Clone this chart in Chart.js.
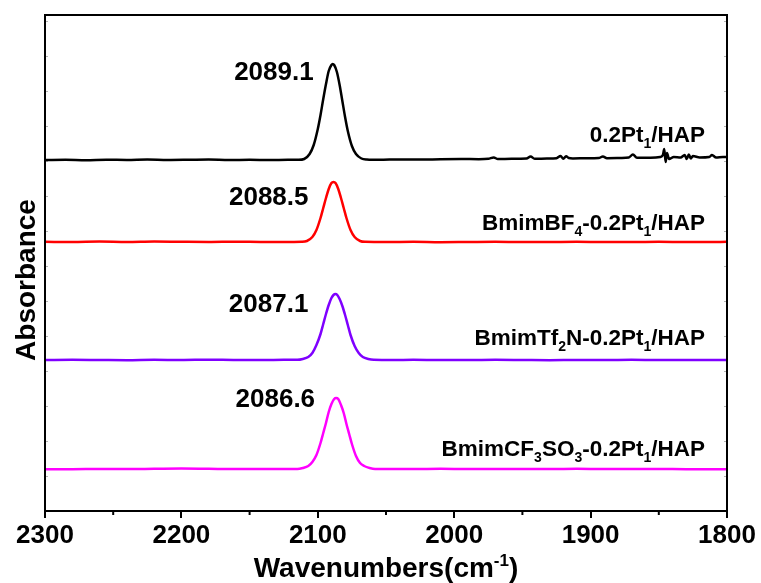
<!DOCTYPE html>
<html>
<head>
<meta charset="utf-8">
<script src="https://cdn.jsdelivr.net/npm/chart.js@4.4.1/dist/chart.umd.min.js"></script>
<style>
  html, body { margin: 0; padding: 0; background: #fff; }
  #wrap { width: 761px; height: 583px; position: relative; }
</style>
</head>
<body>
<div id="wrap"><canvas id="c"></canvas></div>
<script>
// FTIR spectra of CO adsorbed on Pt single atoms, stacked with vertical offsets.
// Each series is a list of [wavenumber (cm-1), absorbance (offset, a.u.)].

const pt = [
  [2300,3.510],[2285,3.512],[2270,3.508],[2255,3.513],[2240,3.510],[2225,3.514],[2210,3.510],
  [2195,3.512],[2180,3.515],[2165,3.510],[2150,3.512],[2135,3.510],[2122,3.512],[2114,3.512],
  [2110,3.52],[2106,3.57],[2103,3.66],[2100,3.82],[2098,3.96],[2096,4.12],[2094,4.27],
  [2092,4.40],[2090,4.46],[2089.1,4.47],[2088,4.46],[2086,4.39],[2084,4.26],[2082,4.10],
  [2080,3.94],[2078,3.80],[2075,3.65],[2072,3.57],[2068,3.525],[2064,3.515],[2055,3.512],
  [2040,3.516],[2025,3.514],[2010,3.518],[1995,3.520],[1982,3.518],[1975,3.522],[1971,3.535],
  [1968,3.520],[1958,3.522],[1947,3.524],[1944,3.545],[1941,3.522],[1932,3.525],[1925,3.528],
  [1922,3.550],[1920,3.522],[1918,3.548],[1916,3.530],[1913,3.526],[1903,3.528],[1894,3.530],
  [1891,3.545],[1888,3.528],[1878,3.530],[1872,3.535],[1869,3.565],[1866,3.532],[1856,3.532],
  [1849,3.540],[1847,3.560],[1846,3.620],[1845,3.490],[1844,3.580],[1842.5,3.520],[1839,3.540],
  [1834,3.535],[1831,3.560],[1829.5,3.520],[1828,3.565],[1826.5,3.525],[1825,3.550],[1820,3.535],
  [1813,3.540],[1811,3.560],[1808,3.535],[1803,3.540],[1800,3.538]
];

const bf4 = [
  [2300,2.692],[2280,2.690],[2260,2.694],[2240,2.690],[2220,2.695],[2200,2.692],[2180,2.690],
  [2160,2.693],[2140,2.690],[2125,2.690],[2112,2.692],[2108,2.70],[2104,2.74],[2101,2.81],
  [2098,2.93],[2096,3.03],[2094,3.13],[2092,3.22],[2090,3.28],[2088.5,3.29],[2087,3.28],
  [2085,3.22],[2083,3.13],[2081,3.03],[2079,2.93],[2076,2.81],[2073,2.74],[2069,2.70],
  [2065,2.692],[2050,2.690],[2030,2.692],[2010,2.688],[1990,2.690],[1970,2.692],[1950,2.689],
  [1930,2.690],[1910,2.692],[1890,2.690],[1870,2.690],[1850,2.692],[1830,2.690],[1815,2.690],
  [1800,2.692]
];

const tf2n = [
  [2300,1.510],[2280,1.512],[2260,1.510],[2240,1.508],[2220,1.512],[2200,1.510],[2180,1.513],
  [2160,1.510],[2140,1.510],[2125,1.512],[2115,1.512],[2111,1.52],[2107,1.54],[2104,1.58],
  [2101,1.66],[2098,1.77],[2096,1.87],[2094,1.97],[2092,2.06],[2090,2.13],[2088.5,2.16],
  [2087.1,2.17],[2085.7,2.16],[2084,2.12],[2082,2.05],[2080,1.96],[2078,1.86],[2076,1.76],
  [2073,1.65],[2070,1.58],[2067,1.54],[2063,1.52],[2059,1.512],[2045,1.510],[2030,1.512],
  [2010,1.510],[1990,1.510],[1970,1.512],[1950,1.510],[1930,1.508],[1910,1.510],[1890,1.510],
  [1870,1.512],[1850,1.510],[1830,1.510],[1815,1.509],[1800,1.510]
];

const cf3so3 = [
  [2300,0.418],[2280,0.418],[2260,0.420],[2240,0.420],[2220,0.422],[2200,0.424],[2180,0.422],
  [2160,0.420],[2140,0.420],[2125,0.420],[2115,0.420],[2111,0.43],[2107,0.45],[2104,0.49],
  [2101,0.56],[2098,0.68],[2096,0.78],[2094,0.88],[2092,0.99],[2090,1.07],[2088,1.12],
  [2086.6,1.13],[2085,1.12],[2083,1.06],[2081,0.98],[2079,0.87],[2077,0.77],[2075,0.67],
  [2072,0.55],[2069,0.48],[2066,0.45],[2062,0.43],[2058,0.420],[2045,0.420],[2030,0.420],
  [2010,0.422],[1990,0.420],[1970,0.420],[1950,0.421],[1930,0.420],[1910,0.422],[1890,0.420],
  [1870,0.420],[1850,0.420],[1830,0.418],[1815,0.418],[1800,0.418]
];

// Sample names ("_x" = subscript character) and the fitted band maxima.
const sampleNames = ['0.2Pt_1/HAP', 'BmimBF_4-0.2Pt_1/HAP', 'BmimTf_2N-0.2Pt_1/HAP', 'BmimCF_3SO_3-0.2Pt_1/HAP'];
const peakPositions = [2089.1, 2088.5, 2087.1, 2086.6];
const xTickValues = [2300, 2200, 2100, 2000, 1900, 1800];
const xMinorTicks = [2250, 2150, 2050, 1950, 1850];

const seriesList = [pt, bf4, tf2n, cf3so3];
const colors = ['#000000', '#ff0000', '#7f00ff', '#ff00ff'];
// label offsets in px: [peak label dx, dy] and name label height above the baseline
const peakLabelOffset = [[-19, 9], [-25, 16], [-27, 11], [-21, 2]];
const nameLabelRise = [15, 12, 15, 13];

const FONT = '"Liberation Sans", Arial, Helvetica, sans-serif';
const fontOf = (sz) => `bold ${sz}px ${FONT}`;

// split "_x" (subscript) and "^{...}" (superscript) markup into segments
function parseRich(str) {
  const segs = [];
  const re = /_(\w)|\^\{([^}]*)\}/g;
  let last = 0, m;
  while ((m = re.exec(str))) {
    if (m.index > last) segs.push({ t: str.slice(last, m.index) });
    if (m[1] !== undefined) segs.push({ t: m[1], s: 'sub' });
    else segs.push({ t: m[2], s: 'sup' });
    last = re.lastIndex;
  }
  if (last < str.length) segs.push({ t: str.slice(last) });
  return segs;
}

function drawRich(ctx, str, x, y, size, align) {
  const segs = parseRich(str);
  let total = 0;
  segs.forEach(g => {
    ctx.font = fontOf(g.s ? Math.round(size * 0.62) : size);
    g.w = ctx.measureText(g.t).width;
    total += g.w;
  });
  let xs = align === 'right' ? x - total : align === 'center' ? x - total / 2 : x;
  ctx.textAlign = 'left';
  ctx.textBaseline = 'alphabetic';
  segs.forEach(g => {
    ctx.font = fontOf(g.s ? Math.round(size * 0.62) : size);
    const dy = g.s === 'sub' ? size * 0.26 : g.s === 'sup' ? -size * 0.40 : 0;
    ctx.fillText(g.t, xs, y + dy);
    xs += g.w;
  });
}

const decorations = {
  id: 'decorations',
  afterDraw(chart) {
    const { ctx, chartArea: a, scales: { x, y } } = chart;
    ctx.save();
    ctx.fillStyle = '#000';

    // faint inner ticks on the left and right frame
    ctx.strokeStyle = 'rgba(0,0,0,0.3)';
    ctx.lineWidth = 1;
    for (let v = 0.35; v < y.max; v += 0.35) {
      const py = Math.round(y.getPixelForValue(v)) + 0.5;
      ctx.beginPath();
      ctx.moveTo(a.left, py); ctx.lineTo(a.left + 3, py);
      ctx.moveTo(a.right, py); ctx.lineTo(a.right - 3, py);
      ctx.stroke();
    }

    // minor x ticks
    ctx.strokeStyle = '#000';
    ctx.lineWidth = 2;
    xMinorTicks.forEach(v => {
      const px = x.getPixelForValue(v);
      ctx.beginPath();
      ctx.moveTo(px, a.bottom); ctx.lineTo(px, a.bottom + 4);
      ctx.stroke();
    });

    // plot frame
    ctx.strokeRect(a.left, a.top, a.right - a.left, a.bottom - a.top);

    // band maxima labels
    seriesList.forEach((s, i) => {
      const pk = s.find(p => p[0] === peakPositions[i]);
      const px = x.getPixelForValue(pk[0]);
      const py = y.getPixelForValue(pk[1]);
      ctx.font = fontOf(26);
      ctx.textAlign = 'right';
      ctx.textBaseline = 'middle';
      ctx.fillText(peakPositions[i].toFixed(1), px + peakLabelOffset[i][0], py + peakLabelOffset[i][1]);
    });

    // sample names above each baseline, right aligned
    seriesList.forEach((s, i) => {
      const py = y.getPixelForValue(s[s.length - 1][1]) - nameLabelRise[i];
      drawRich(ctx, sampleNames[i], a.right - 22, py, 22.5, 'right');
    });

    // axis titles
    drawRich(ctx, 'Wavenumbers(cm^{-1})', (a.left + a.right) / 2, 577, 28, 'center');
    ctx.save();
    ctx.translate(35, 280);
    ctx.rotate(-Math.PI / 2);
    drawRich(ctx, 'Absorbance', 0, 0, 28, 'center');
    ctx.restore();

    ctx.restore();
  }
};

new Chart(document.getElementById('c'), {
  type: 'line',
  data: {
    datasets: seriesList.map((s, i) => ({
      label: sampleNames[i],
      data: s.map(p => ({ x: p[0], y: p[1] })),
      borderColor: colors[i],
      borderWidth: 2.5,
      pointRadius: 0,
      cubicInterpolationMode: 'monotone',
      fill: false
    }))
  },
  options: {
    responsive: true,
    maintainAspectRatio: false,
    animation: false,
    events: [],
    layout: { padding: { top: 15, right: 34, left: 0, bottom: 0 } },
    plugins: { legend: { display: false }, tooltip: { enabled: false } },
    scales: {
      x: {
        type: 'linear',
        reverse: true,
        min: 1800,
        max: 2300,
        afterFit(s) { s.height = 72; },
        afterBuildTicks(s) { s.ticks = xTickValues.map(v => ({ value: v })); },
        border: { display: false },
        grid: { drawOnChartArea: false, drawTicks: true, tickLength: 7, color: '#000', lineWidth: 2 },
        ticks: {
          autoSkip: false,
          maxRotation: 0,
          padding: 2,
          color: '#000',
          font: { family: FONT, size: 26, weight: 'bold' },
          callback: v => String(v)
        }
      },
      y: {
        min: 0,
        max: 4.96,
        afterFit(s) { s.width = 45; },
        border: { display: false },
        grid: { display: false },
        ticks: { display: false }
      }
    }
  },
  plugins: [decorations]
});
</script>
</body>
</html>
